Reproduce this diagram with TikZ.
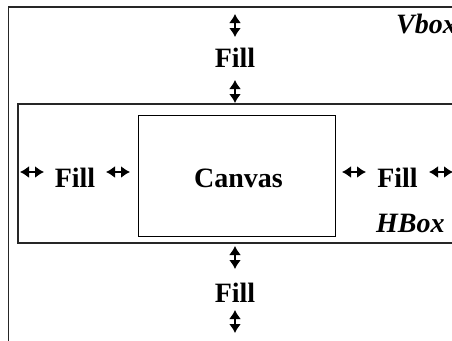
\documentclass[tikz,border=0pt]{standalone}
\usepackage{fontspec}
\setmainfont{Liberation Serif}
\usetikzlibrary{arrows.meta}
\tikzset{
  boxline/.style={draw,line width=1.3pt,black!85},
  filltext/.style={font=\bfseries\fontsize{28}{28}\selectfont,inner sep=0pt,anchor=base},
  boxtitle/.style={font=\bfseries\itshape\fontsize{28}{28}\selectfont,inner sep=0pt,anchor=base west},
  dbl/.style={line width=1.6pt,{Latex[length=9pt,width=12pt]}-{Latex[length=9pt,width=12pt]}}
}
\begin{document}
\begin{tikzpicture}[x=1pt,y=-1pt]
    \clip (0,0) rectangle (452,340);
    %% Vbox
    \draw[boxline] (8.5,7) rectangle (470,360);
    \node[boxtitle] (vbox) at (396,33) {Vbox};
    %% HBox
    \draw[boxline] (18,104) rectangle (470,243);
    \node[boxtitle] (hbox) at (376,232) {HBox};
    %% Canvas
    \draw[line width=0.8pt] (138,115) rectangle (335,236);
    \node[filltext] (canvas) at (238.5,187) {Canvas};
    %% Fills
    \node[filltext] (fillT) at (235,67) {Fill};
    \node[filltext] (fillB) at (235,302) {Fill};
    \node[filltext] (fillL) at (75,187) {Fill};
    \node[filltext] (fillR) at (397.5,187) {Fill};
    %% Arrows
    \foreach \y in {14,80,246,310}
        \draw[dbl] (235,\y) -- ++(0,23);
    \foreach \x in {20,106,342,429}
        \draw[dbl] (\x,172) -- ++(24,0);
\end{tikzpicture}
\end{document}
